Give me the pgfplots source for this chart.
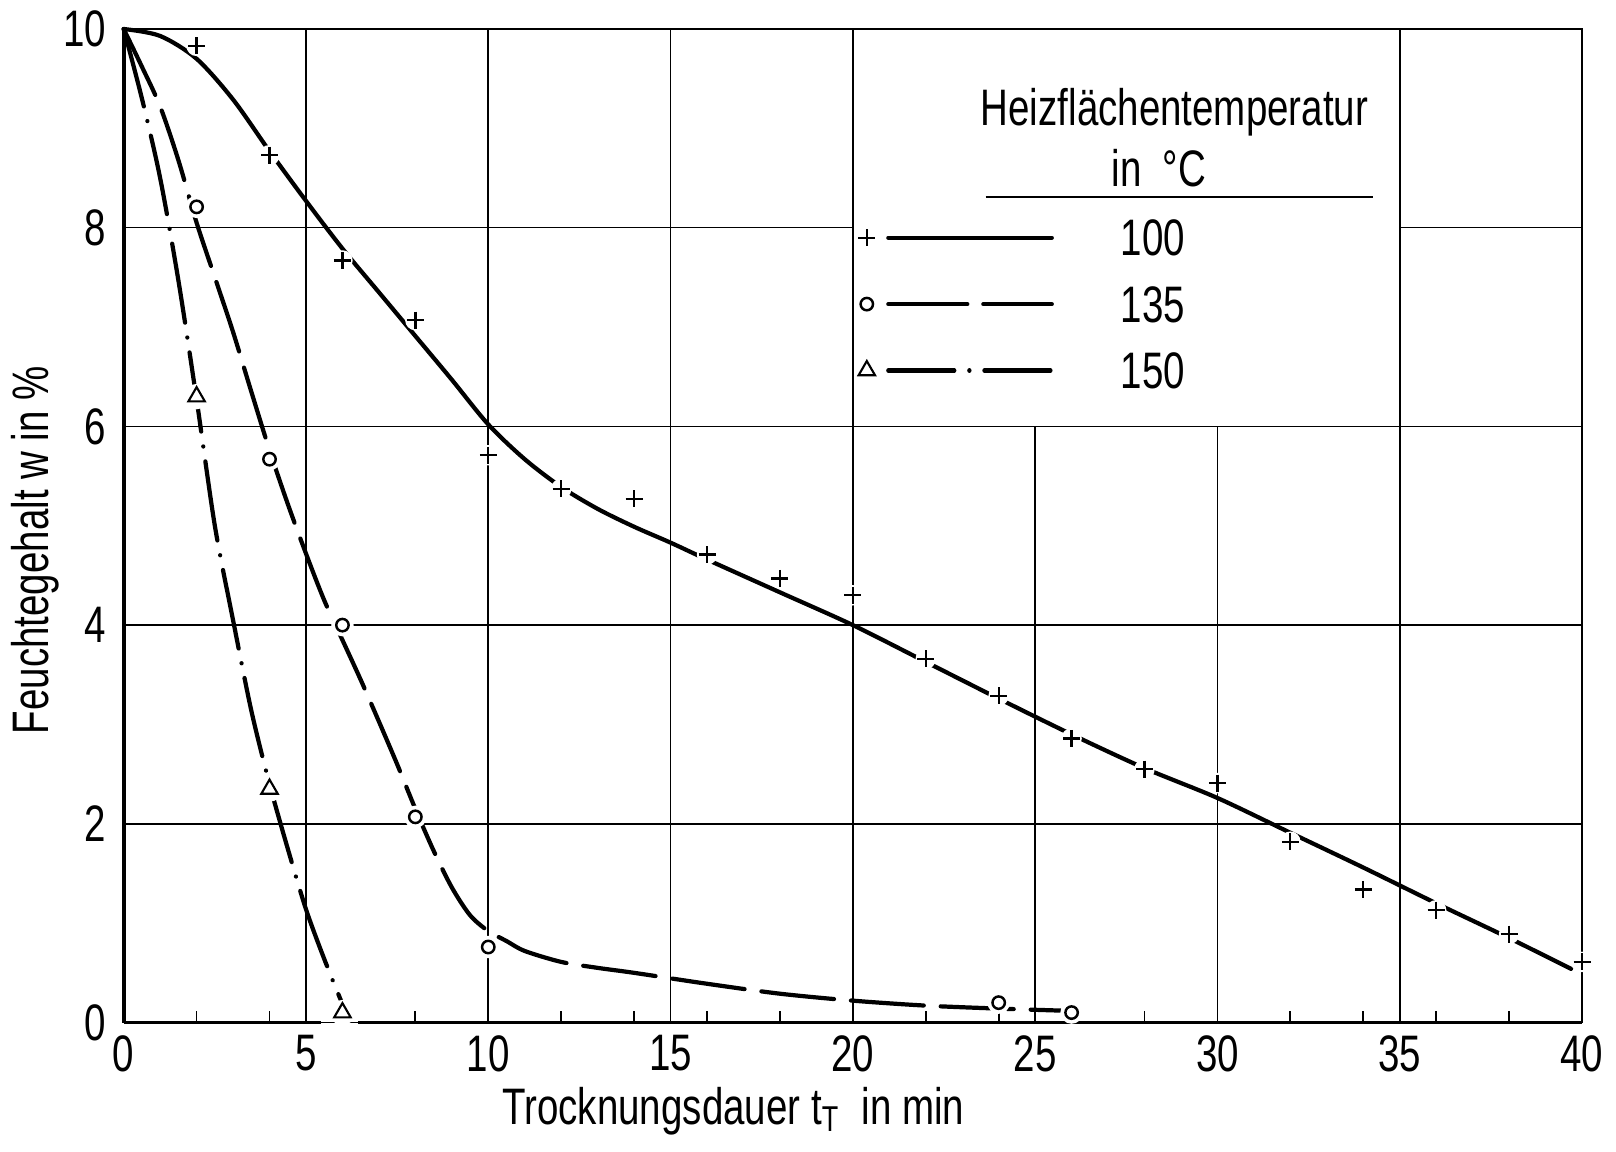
\documentclass[border=0pt]{standalone}
\usepackage{fontspec}
\setmainfont{Liberation Sans}[FakeStretch=0.75]
\usepackage{pgfplots}
\usepackage{pgfplotstable}
\pgfplotsset{compat=1.18}

\tikzset{
  gridline/.style={line width=0.45pt, black},
  curveA/.style={black, line width=1.2pt, line cap=round, line join=round},
  curveB/.style={black, line width=1.2pt, line cap=round, dash pattern=on 7.3mm off 1.7mm},
  curveC/.style={black, line width=1.2pt, line cap=round, dash pattern=on 8mm off 1.5mm on 0.01mm off 1.5mm},
}

% measured moisture content, heating surface 100 C
\pgfplotstableread{
t w
2 9.83
4 8.73
6 7.67
8 7.07
10 5.71
12 5.37
14 5.27
16 4.71
18 4.47
20 4.30
22 3.66
24 3.29
26 2.86
28 2.55
30 2.41
32 1.82
34 1.34
36 1.13
38 0.89
40 0.61
}\dataA
% heating surface 135 C
\pgfplotstableread{
t w
2 8.21
4 5.67
6 4.00
8 2.07
10 0.76
24 0.20
26 0.10
}\dataB
% heating surface 150 C
\pgfplotstableread{
t w
2 6.30
4 2.35
6 0.10
}\dataC

\begin{document}
\fontsize{14.6pt}{17pt}\selectfont
\begin{tikzpicture}
\begin{axis}[
  scale only axis, width=145.83mm, height=99.35mm,
  xmin=0, xmax=40, ymin=0, ymax=10,
  xtick={0,5,...,40}, ytick={0,2,...,10},
  major tick length=0pt,
  xtick pos=left, ytick pos=left,
  tick align=inside,
  extra x ticks={2,4,8,12,14,16,18,22,24,26,28,32,34,36,38},
  extra x tick labels={},
  extra x tick style={major tick length=1.2mm, tick style={line width=0.5pt, black}},
  axis line style={line width=0.5pt},
  /pgf/number format/assume math mode=true,
  xticklabel style={anchor=north, inner sep=0pt, yshift=-1.2mm},
  yticklabel style={anchor=east, inner sep=0pt, xshift=-1.7mm},
  xlabel={Trocknungsdauer t\textsubscript{T}\ \ in min},
  every axis x label/.style={at={(rel axis cs:0.418,-0.1023)}, anchor=base},
  ylabel={Feuchtegehalt w in \%},
  every axis y label/.style={at={(rel axis cs:-0.0514,0.4755)}, anchor=base, rotate=90},
  clip=false,
  legend cell align=left,
  legend style={draw=none, fill=none, at={(axis cs:20.15,8.08)}, anchor=north west,
    inner sep=0pt, outer sep=0pt, row sep=3.06mm, column sep=6.7mm,
    nodes={inner sep=0pt, text depth=0pt}},
]
% drying curves
\addplot[curveA, smooth, forget plot] coordinates {
 (0,10) (1,9.93) (2,9.7) (3,9.29) (4,8.77) (5,8.27) (6,7.79) (7,7.35) (8,6.91)
 (9,6.47) (10,6.02) (11,5.67) (12,5.39) (13,5.17) (14,4.99) (15,4.83) (16,4.66)
 (18,4.33) (20,4.0) (22,3.63) (24,3.26) (26,2.9) (28,2.56) (30,2.26) (32,1.91)
 (34,1.56) (36,1.2) (38,0.85) (39.7,0.54)};
\addplot[curveB, smooth, forget plot] coordinates {
 (0,10) (0.5,9.62) (1,9.22) (1.5,8.68) (2,8.05) (2.5,7.5) (3,6.95) (3.5,6.35)
 (4,5.76) (4.5,5.22) (5,4.72) (5.5,4.25) (6,3.85) (6.5,3.45) (7,3.03) (7.5,2.6)
 (8,2.15) (8.5,1.73) (9,1.36) (9.5,1.08) (10,0.92) (10.5,0.82) (11,0.72)
 (12,0.61) (13,0.55) (14,0.5) (16,0.39) (18,0.29) (20,0.22) (22,0.17) (24,0.14)
 (25.7,0.12)};
\addplot[curveC, smooth, forget plot] coordinates {
 (0,10) (0.5,9.3) (1,8.5) (1.5,7.47) (2,6.27) (2.5,5.0) (3,4.05) (3.5,3.14)
 (4,2.4) (4.5,1.75) (5,1.14) (5.5,0.64) (6.05,0.14)};

% curves break off around the measured points
\addplot[white, only marks, mark=*, mark size=0.95mm, mark options={draw=white, fill=white}, forget plot] table {\dataA};
\addplot[white, only marks, mark=*, mark size=1.05mm, mark options={draw=white, fill=white}, forget plot] table {\dataB};
\addplot[white, only marks, mark=*, mark size=1.2mm, mark options={draw=white, fill=white}, forget plot] table {\dataC};

% grid, left open behind the key
\draw[gridline] (axis cs:5,0) -- (axis cs:5,10);
\draw[gridline] (axis cs:10,0) -- (axis cs:10,10);
\draw[gridline] (axis cs:15,0) -- (axis cs:15,10);
\draw[gridline] (axis cs:20,0) -- (axis cs:20,10);
\draw[gridline] (axis cs:25,0) -- (axis cs:25,6);
\draw[gridline] (axis cs:30,0) -- (axis cs:30,6);
\draw[gridline] (axis cs:35,0) -- (axis cs:35,10);
\draw[gridline] (axis cs:0,2) -- (axis cs:40,2);
\draw[gridline] (axis cs:0,4) -- (axis cs:40,4);
\draw[gridline] (axis cs:0,6) -- (axis cs:40,6);
\draw[gridline] (axis cs:0,8) -- (axis cs:20,8);
\draw[gridline] (axis cs:35,8) -- (axis cs:40,8);
\draw[line width=0.5pt] (axis cs:0,10) -- (axis cs:40,10) -- (axis cs:40,0);

% measured points
\addplot[black, only marks, mark=+, mark size=0.85mm, mark options={line width=0.65pt, black}, forget plot] table {\dataA};
\addplot[black, only marks, mark=*, mark size=0.62mm, mark options={line width=0.7pt, draw=black, fill=white}, forget plot] table {\dataB};
\addplot[black, only marks, mark=triangle*, mark size=0.95mm, mark options={line width=0.6pt, draw=black, fill=white}, forget plot] table {\dataC};

% key
\addlegendimage{legend image code/.code={
  \draw[curveA] (2.15mm,0mm) -- (18.5mm,0mm);
  \draw[black, line width=0.65pt] plot[mark=+, mark size=0.85mm] coordinates {(0mm,0mm)};
}}
\addlegendentry{100}
\addlegendimage{legend image code/.code={
  \draw[curveA, dash pattern=on 7.9mm off 1.6mm] (2.15mm,0mm) -- (18.5mm,0mm);
  \draw[black, line width=0.7pt] plot[mark=*, mark size=0.62mm, mark options={fill=white}] coordinates {(0mm,0mm)};
}}
\addlegendentry{135}
\addlegendimage{legend image code/.code={
  \draw[curveA, dash pattern=on 6.6mm off 1.5mm on 0.01mm off 1.5mm] (2.15mm,0mm) -- (18.5mm,0mm);
  \draw[black, line width=0.6pt] plot[mark=triangle*, mark size=0.95mm, mark options={fill=white}] coordinates {(0mm,0mm)};
}}
\addlegendentry{150}

\node[anchor=base] at (axis cs:28.82,9.03) {Heizflächentemperatur};
\node[anchor=base] at (axis cs:28.39,8.41) {in\ \ °C};
\draw[line width=0.6pt] (axis cs:23.64,8.31) -- (axis cs:34.27,8.31);

% heavy left and bottom axis lines; the bottom one is broken at the last triangle
\draw[line width=1.1pt] (rel axis cs:0,1) -- (rel axis cs:0,0);
\draw[line width=0.9pt] (axis cs:0,0) -- (axis cs:5.42,0);
\draw[line width=0.9pt] (axis cs:6.43,0) -- (axis cs:40,0);
\coordinate (SW) at (rel axis cs:0,0);
\coordinate (NE) at (rel axis cs:1,1);
\end{axis}
\pgfresetboundingbox
\path ([shift={(-12.37mm,-12.86mm)}]SW) rectangle ([shift={(3.4mm,2.9mm)}]NE);
\end{tikzpicture}
\end{document}
